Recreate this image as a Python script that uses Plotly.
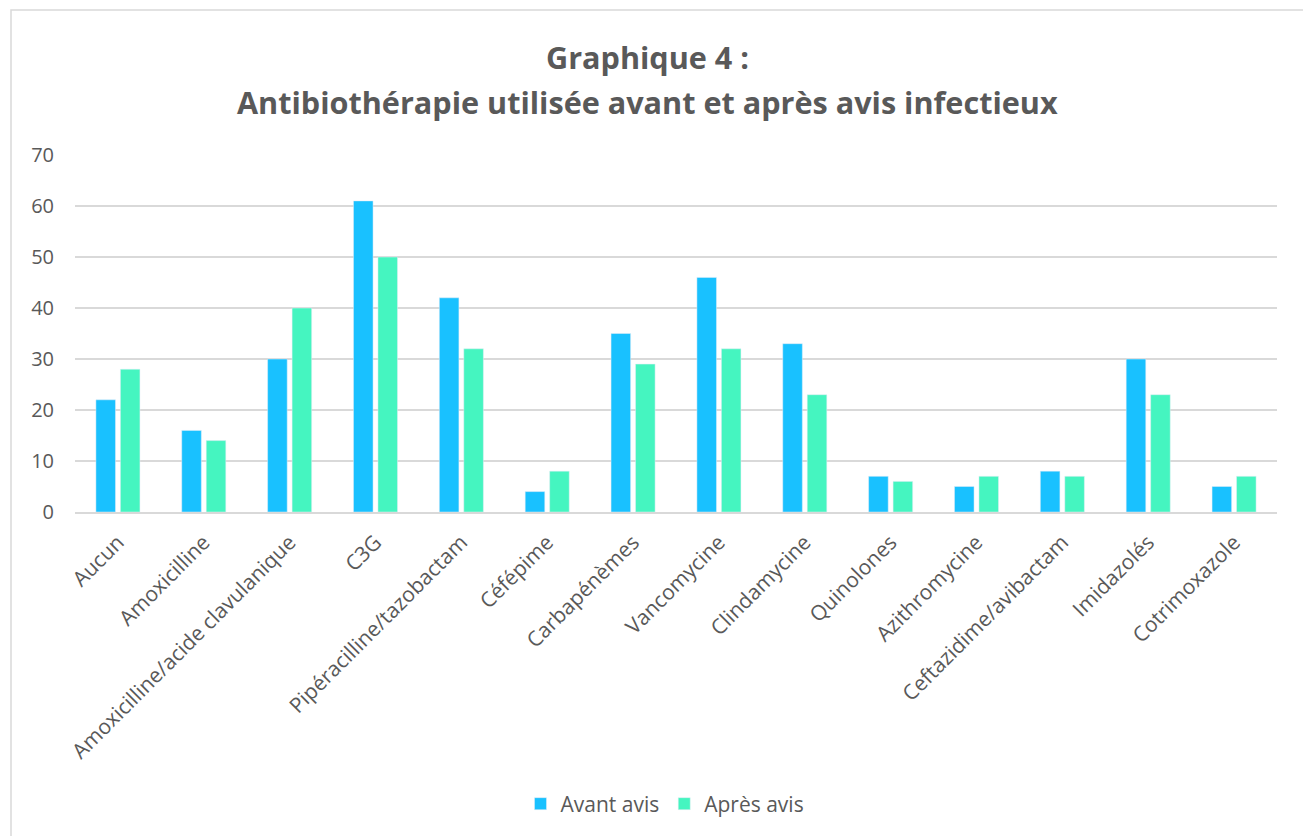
import plotly.graph_objects as go

categories = ["Aucun", "Amoxicilline", "Amoxicilline/acide clavulanique", "C3G",
              "Pipéracilline/tazobactam", "Céfépime", "Carbapénèmes", "Vancomycine",
              "Clindamycine", "Quinolones", "Azithromycine", "Ceftazidime/avibactam",
              "Imidazolés", "Cotrimoxazole"]
avant = [22, 16, 30, 61, 42, 4, 35, 46, 33, 7, 5, 8, 30, 5]
apres = [28, 14, 40, 50, 32, 8, 29, 32, 23, 6, 7, 7, 23, 7]

font_family = "Open Sans, Noto Sans, sans-serif"
txt = "#595959"

fig = go.Figure()
fig.add_trace(go.Bar(x=categories, y=avant, name="Avant avis", marker_color="#19C1FF"))
fig.add_trace(go.Bar(x=categories, y=apres, name="Après avis", marker_color="#45F5C0"))

W, H = 1311, 836
OFF = 8  # page body margin
# reference pixel positions of the plot area
PL, PR, PT, PB = 75, 1277, 155, 512
L = PL - OFF
R = W - (PR - OFF)
T = PT - OFF
B = H - (PB - OFF)
pw, ph = PR - PL, PB - PT

def px(x):
    return (x - PL) / pw

def py(y):
    return (PB - y) / ph

annotations = [
    dict(text="<b>Graphique 4 :</b>", x=px(647), y=py(57), xref="paper", yref="paper",
         xanchor="center", yanchor="middle", showarrow=False,
         font=dict(size=30.6, color=txt, family=font_family)),
    dict(text="<b>Antibiothérapie utilisée avant et après avis infectieux</b>", x=px(647), y=py(102),
         xref="paper", yref="paper", xanchor="center", yanchor="middle", showarrow=False,
         font=dict(size=30.6, color=txt, family=font_family)),
]

fig.update_layout(
    width=W, height=H,
    margin=dict(l=L, r=R, t=T, b=B),
    paper_bgcolor="white", plot_bgcolor="white",
    font=dict(family=font_family, color=txt, size=20),
    annotations=annotations,
    barmode="group", bargap=0.43, bargroupgap=0.2,
    showlegend=True,
    legend=dict(orientation="h", x=px(665), xanchor="center", y=py(804), yanchor="middle",
                font=dict(size=21, color=txt), itemwidth=30, traceorder="normal"),
    xaxis=dict(tickangle=-45, showgrid=False, showline=True, linecolor="#D9D9D9", linewidth=1.5,
               ticks="", tickfont=dict(size=21, color=txt), ticklabelstandoff=8),
    yaxis=dict(range=[0, 70], dtick=10, showgrid=True, gridcolor="#D9D9D9", gridwidth=1.5,
               zeroline=False, showline=False, ticks="", tickfont=dict(size=20, color=txt),
               ticklabelstandoff=20),
    shapes=[dict(type="rect", xref="paper", yref="paper",
                 x0=px(11), x1=px(1305), y0=py(860), y1=py(10),
                 line=dict(color="#D9D9D9", width=1.5), fillcolor="rgba(0,0,0,0)", layer="below")],
)

fig.write_html("out.html")
